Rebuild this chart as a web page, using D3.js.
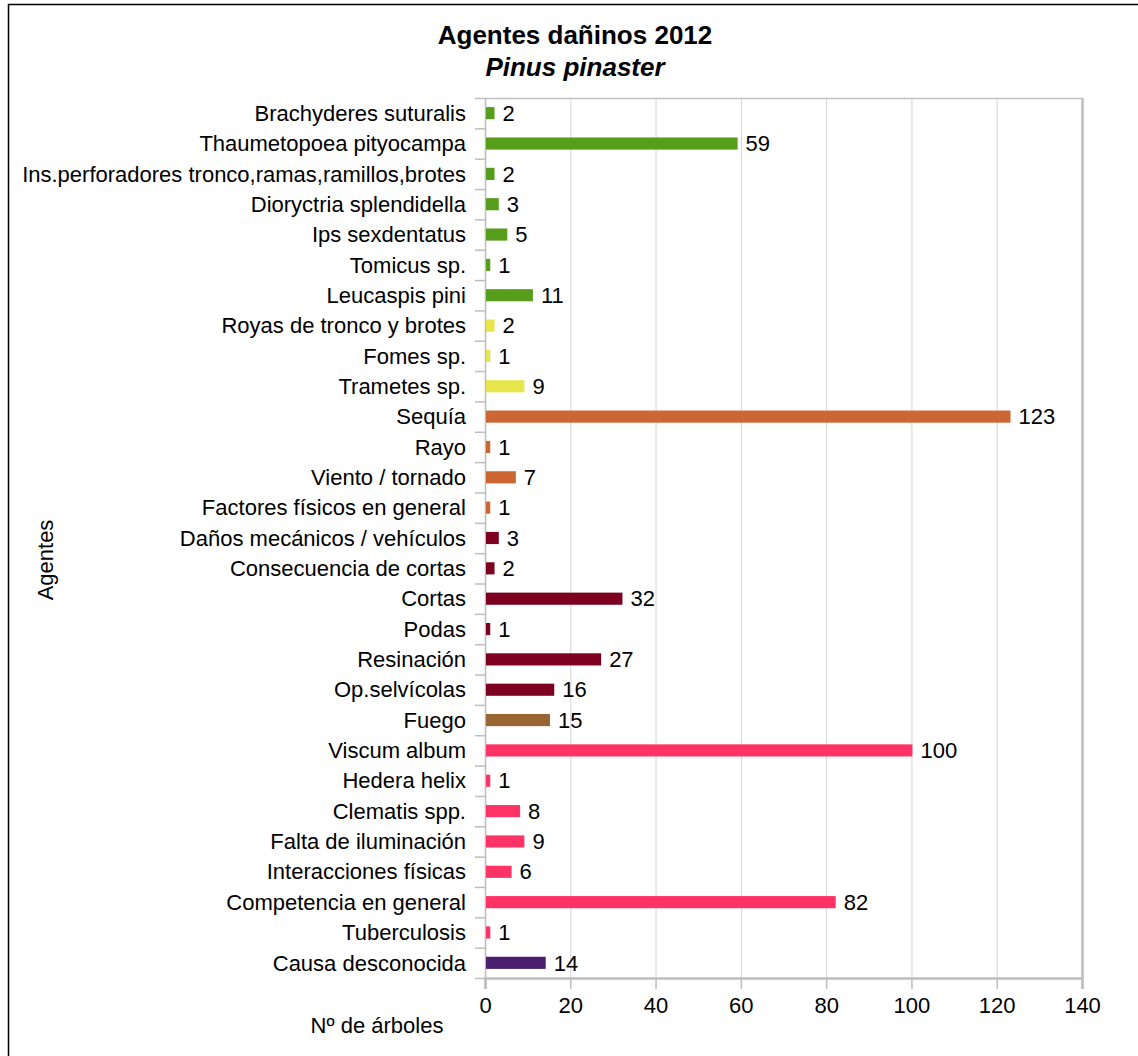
<!DOCTYPE html>
<html>
<head>
<meta charset="utf-8">
<script src="https://cdn.jsdelivr.net/npm/d3@7"></script>
<style>
  html, body { margin: 0; padding: 0; background: #fff; }
  svg { display: block; font-family: "Liberation Sans", Arial, sans-serif; }
</style>
</head>
<body>
<svg id="chart" width="1138" height="1056"></svg>
<script>
// Damaging agents recorded on Pinus pinaster, 2012
const categories = [
  "Brachyderes suturalis",
  "Thaumetopoea pityocampa",
  "Ins.perforadores tronco,ramas,ramillos,brotes",
  "Dioryctria splendidella",
  "Ips sexdentatus",
  "Tomicus sp.",
  "Leucaspis pini",
  "Royas de tronco y brotes",
  "Fomes sp.",
  "Trametes sp.",
  "Sequía",
  "Rayo",
  "Viento / tornado",
  "Factores físicos en general",
  "Daños mecánicos / vehículos",
  "Consecuencia de cortas",
  "Cortas",
  "Podas",
  "Resinación",
  "Op.selvícolas",
  "Fuego",
  "Viscum album",
  "Hedera helix",
  "Clematis spp.",
  "Falta de iluminación",
  "Interacciones físicas",
  "Competencia en general",
  "Tuberculosis",
  "Causa desconocida"
];
const values = [2, 59, 2, 3, 5, 1, 11, 2, 1, 9, 123, 1, 7, 1, 3, 2, 32, 1, 27, 16, 15, 100, 1, 8, 9, 6, 82, 1, 14];
// agent group of each category (insects, fungi, abiotic, human, fire, plants/competition, unknown)
const groups = ["ins","ins","ins","ins","ins","ins","ins","fun","fun","fun","abi","abi","abi","abi","hum","hum","hum","hum","hum","hum","fire","comp","comp","comp","comp","comp","comp","comp","unk"];
const groupNames = ["ins", "fun", "abi", "hum", "fire", "comp", "unk"];
const groupColors = ["#579d1c", "#e6e64c", "#cc6633", "#7e0021", "#996633", "#ff3366", "#4b1f6f"];
const xTicks = [0, 20, 40, 60, 80, 100, 120, 140];

const svg = d3.select("#chart");
const W = 1138, H = 1056;
const plot = { left: 485, right: 1082, top: 98, bottom: 978 };
const fs = 22;

const x = d3.scaleLinear().domain([0, 140]).range([plot.left, plot.right]);
const y = d3.scaleBand().domain(categories).range([plot.top, plot.bottom]).paddingInner(0.6).paddingOuter(0.3);
const color = d3.scaleOrdinal().domain(groupNames).range(groupColors);

// outer frame
svg.append("rect")
  .attr("x", 8.5).attr("y", 4.5).attr("width", W).attr("height", H)
  .attr("fill", "none").attr("stroke", "#000").attr("stroke-width", 1.5);

// titles
svg.append("text").attr("x", 575).attr("y", 44).attr("text-anchor", "middle")
  .attr("font-size", 26).attr("font-weight", "bold").text("Agentes dañinos 2012");
svg.append("text").attr("x", 575).attr("y", 76).attr("text-anchor", "middle")
  .attr("font-size", 26).attr("font-weight", "bold").attr("font-style", "italic").text("Pinus pinaster");

// vertical gridlines
svg.append("g").selectAll("line").data(xTicks.slice(1, -1)).join("line")
  .attr("x1", d => x(d) + 0.5).attr("x2", d => x(d) + 0.5)
  .attr("y1", plot.top).attr("y2", plot.bottom)
  .attr("stroke", "#d4d4d4").attr("stroke-width", 1);

// plot frame (top and right)
svg.append("line").attr("x1", plot.left).attr("x2", plot.right)
  .attr("y1", plot.top + 0.5).attr("y2", plot.top + 0.5)
  .attr("stroke", "#c0c0c0").attr("stroke-width", 1.5);
svg.append("line").attr("x1", plot.right + 0.5).attr("x2", plot.right + 0.5)
  .attr("y1", plot.top).attr("y2", plot.bottom)
  .attr("stroke", "#bdbdbd").attr("stroke-width", 2.5);

// x axis
const xAxis = svg.append("g").attr("transform", `translate(0,${plot.bottom})`)
  .call(d3.axisBottom(x).tickValues(xTicks).tickSize(11).tickPadding(8));
xAxis.select(".domain").attr("stroke", "#bdbdbd").attr("stroke-width", 2.5);
xAxis.selectAll(".tick line").attr("stroke", "#bdbdbd").attr("stroke-width", 1.5);
xAxis.selectAll(".tick text").attr("font-size", fs).attr("fill", "#000")
  .attr("font-family", "Liberation Sans, Arial, sans-serif");

// y axis: tick marks sit on category boundaries
const yAxis = svg.append("g").attr("transform", `translate(${plot.left},0)`);
yAxis.append("line").attr("x1", 0.5).attr("x2", 0.5).attr("y1", plot.top).attr("y2", plot.bottom + 10)
  .attr("stroke", "#bdbdbd").attr("stroke-width", 1.5);
const boundaries = d3.range(categories.length + 1).map(i => plot.top + i * (plot.bottom - plot.top) / categories.length);
yAxis.selectAll("line.b").data(boundaries).join("line").attr("class", "b")
  .attr("x1", -10).attr("x2", 0).attr("y1", d => d + 0.5).attr("y2", d => d + 0.5)
  .attr("stroke", "#bdbdbd").attr("stroke-width", 1.5);
yAxis.selectAll("text").data(categories).join("text")
  .attr("x", -19).attr("y", d => y(d) + y.bandwidth() / 2)
  .attr("dy", "0.35em").attr("text-anchor", "end").attr("font-size", fs).text(d => d);

// bars
svg.append("g").selectAll("rect").data(categories).join("rect")
  .attr("x", x(0) + 1).attr("y", d => y(d))
  .attr("width", (d, i) => x(values[i]) - x(0))
  .attr("height", y.bandwidth())
  .attr("fill", (d, i) => color(groups[i]));

// value labels
svg.append("g").selectAll("text").data(categories).join("text")
  .attr("x", (d, i) => x(values[i]) + 9).attr("y", d => y(d) + y.bandwidth() / 2)
  .attr("dy", "0.35em").attr("font-size", fs).text((d, i) => values[i]);

// axis titles
svg.append("text").attr("transform", "translate(53,560) rotate(-90)")
  .attr("text-anchor", "middle").attr("font-size", fs).text("Agentes");
svg.append("text").attr("x", 377).attr("y", 1033).attr("text-anchor", "middle")
  .attr("font-size", fs).text("Nº de árboles");
</script>
</body>
</html>
